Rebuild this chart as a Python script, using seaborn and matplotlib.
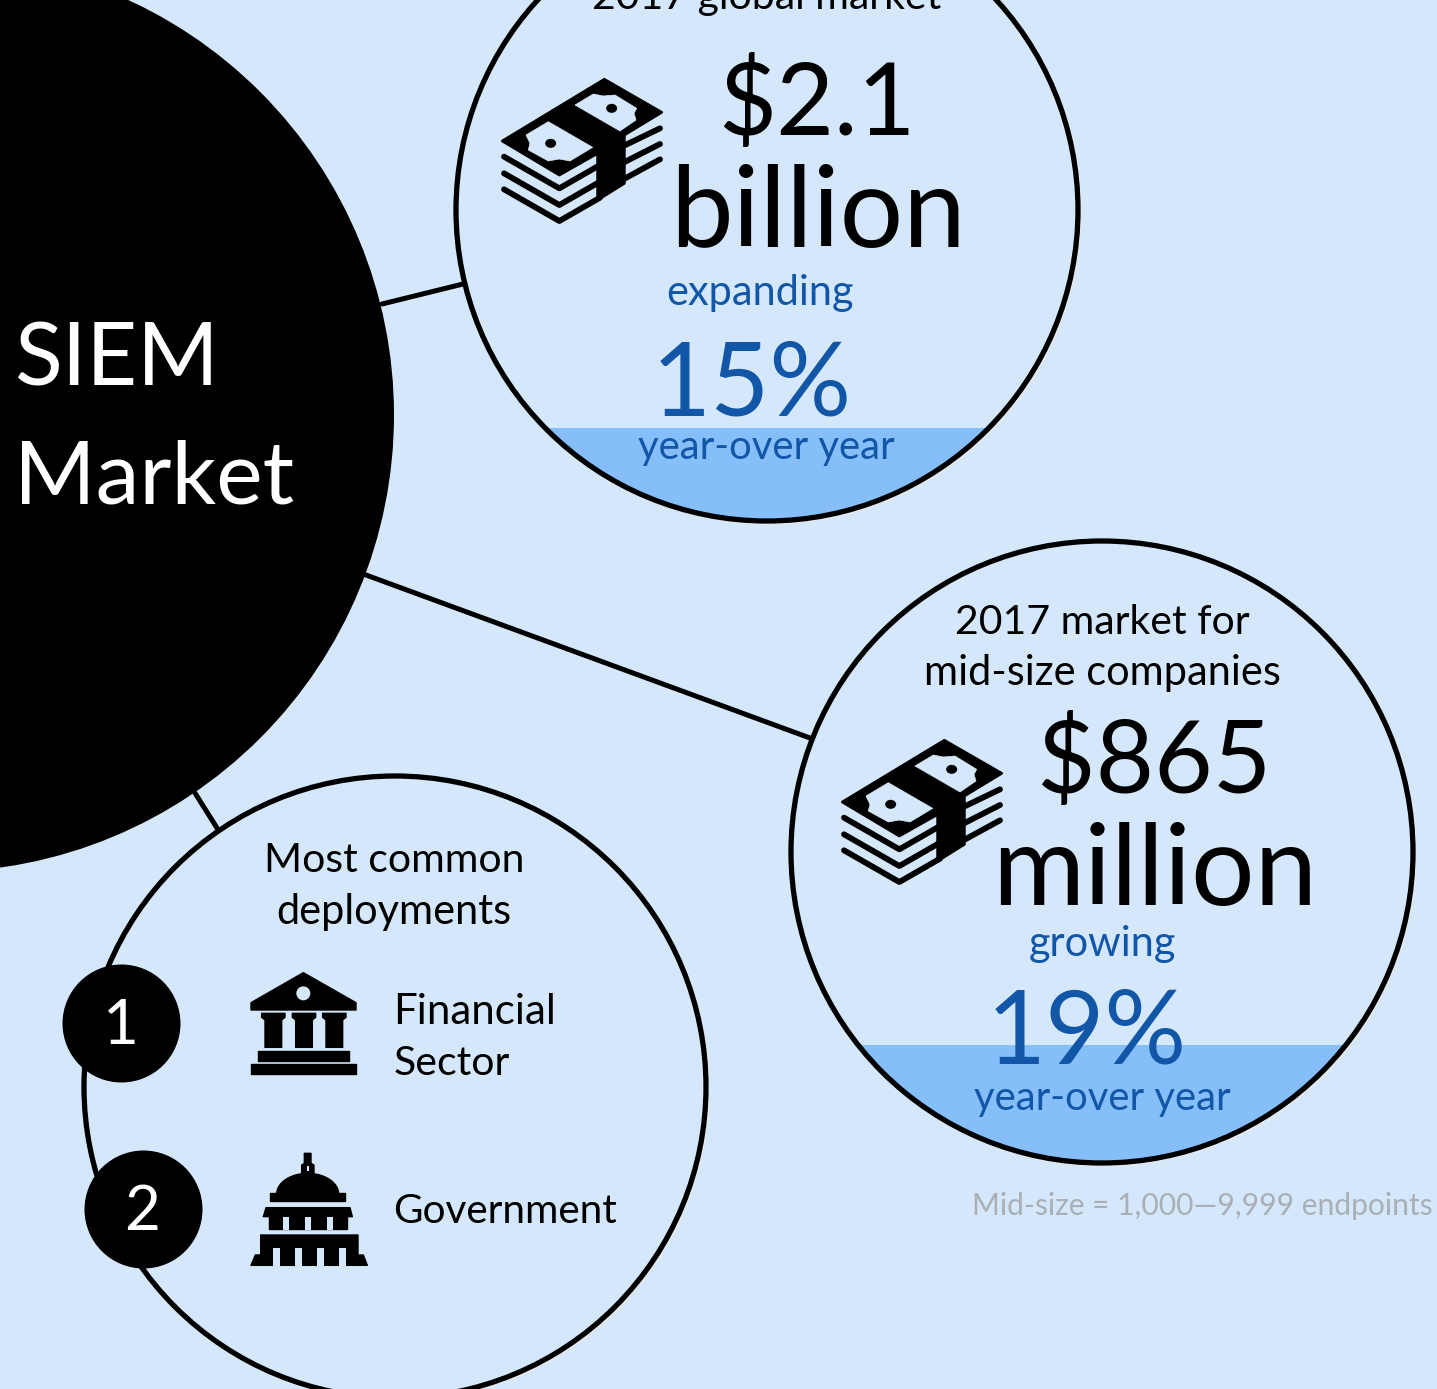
import matplotlib
matplotlib.use('Agg')
import matplotlib.pyplot as plt
import matplotlib.patches as mpatches
import numpy as np
import pandas as pd
import seaborn as sns

# --- data ---
TITLE_LINES = ['SIEM', 'Market']
MARKET_LABELS = ['2017 global market', '2017 market for\nmid-size companies']
MARKET_VALUES = ['$2.1', '$865']
MARKET_UNITS = ['billion', 'million']
GROWTH_WORDS = ['expanding', 'growing']
GROWTH_PCT = [15, 19]
GROWTH_NOTE = 'year-over year'
DEPLOY_TITLE = 'Most common\ndeployments'
DEPLOY_RANK = [1, 2]
DEPLOY_NAMES = ['Financial\nSector', 'Government']
FOOTNOTE = 'Mid-size = 1,000—9,999 endpoints'

# --- style ---
W, H = 1437, 1389
BG = '#d5e8fb'
WATER = '#85bef8'
BLUE = '#1256a8'
GREY = '#a9afb5'
HALO = '#e8eaee'
FONT = 'Lato'
R = 311

sns.set_theme(style='white')
plt.rcParams['font.family'] = [FONT, 'DejaVu Sans']

fig = plt.figure(figsize=(W / 100, H / 100), dpi=100, facecolor=BG)
ax = fig.add_axes([0, 0, 1, 1])
ax.set_xlim(0, W)
ax.set_ylim(H, 0)
ax.set_facecolor(BG)
ax.axis('off')


def txt(x, y, s, size, color='black', ha='center', z=6):
    # size is em height in pixels, y is the baseline
    ax.text(x, y, s, fontsize=size * 0.72, color=color, ha=ha, va='baseline',
            linespacing=1.0, zorder=z)


def poly(pts, ox, oy, color='black', z=5, lw=1.0):
    xy = [(ox + px / 3, oy + py / 3) for px, py in pts]
    ax.add_patch(mpatches.Polygon(xy, closed=True, fc=color, ec=color, lw=lw,
                                  joinstyle='round', zorder=z))


def bubble(cx, cy, pct=None):
    ax.add_patch(mpatches.Circle((cx + 1.5, cy + 1.5), R + 2, fc=HALO, ec='none', zorder=1.5))
    edge = mpatches.Circle((cx, cy), R, fc=BG, ec='none', zorder=2)
    ax.add_patch(edge)
    if pct is not None:
        level = cy + R - 2 * R * pct / 100
        water = mpatches.Rectangle((cx - R, level), 2 * R, cy + R - level,
                                   fc=WATER, ec='none', zorder=3)
        ax.add_patch(water)
        water.set_clip_path(edge)
    ax.add_patch(mpatches.Circle((cx, cy), R, fc='none', ec='black', lw=3.8, zorder=4))


def money(ox, oy):
    poly([(343, 58), (515, 157), (403, 225), (403, 370), (323, 420), (323, 280),
          (208, 345), (37, 243)], ox, oy, lw=2)
    poly([(175, 185), (308, 262), (240, 303), (208, 297), (175, 303), (115, 270),
          (120, 250), (108, 225)], ox, oy, color=BG, z=6, lw=0.5)
    poly([(255, 135), (310, 102), (340, 108), (375, 105), (440, 145), (432, 160),
          (438, 180), (390, 213)], ox, oy, color=BG, z=6, lw=0.5)
    for hx, hy in [(182, 250), (365, 145)]:
        ax.add_patch(mpatches.Ellipse((ox + hx / 3, oy + hy / 3), 11, 9, fc='black',
                                      ec='none', zorder=7))
    for y0 in [290, 340, 388]:
        xs = [ox + p / 3 for p in (42, 208, 330)]
        ys = [oy + (y0 + d) / 3 for d in (0, 95, 25)]
        ax.plot(xs, ys, color='black', lw=4.2, solid_capstyle='round',
                solid_joinstyle='round', zorder=5)
    for y0, y1 in [(258, 205), (308, 252), (358, 298)]:
        ax.plot([ox + 400 / 3, ox + 510 / 3], [oy + y0 / 3, oy + y1 / 3], color='black',
                lw=4.2, solid_capstyle='round', zorder=5)


def bank(ox, oy):
    poly([(190, 38), (348, 128), (348, 150), (33, 150), (33, 128)], ox, oy)
    ax.add_patch(mpatches.Circle((ox + 190 / 3, oy + 100 / 3), 7, fc=BG, ec='none', zorder=6))
    for left in [65, 157, 248]:
        poly([(left, 160), (left + 70, 160), (left + 70, 172), (left + 60, 180),
              (left + 60, 262), (left + 10, 262), (left + 10, 180), (left, 172)], ox, oy)
    poly([(55, 272), (328, 272), (328, 302), (55, 302)], ox, oy)
    poly([(33, 313), (348, 313), (348, 343), (33, 343)], ox, oy)


def capitol(ox, oy):
    poly([(193, 580), (213, 580), (213, 610), (222, 615), (222, 642), (185, 642),
          (185, 615), (193, 610)], ox, oy)
    poly([(200, 618), (206, 618), (206, 632), (200, 632)], ox, oy, color=BG, z=6, lw=0)
    # flat dome, half an ellipse
    t = np.linspace(np.pi, 2 * np.pi, 40)
    dome_x = ox + (203 + 95 * np.cos(t)) / 3
    dome_y = oy + (702 + 64 * np.sin(t)) / 3
    ax.fill(dome_x, dome_y, color='black', lw=0, zorder=5)
    poly([(90, 700), (316, 700), (316, 724), (90, 724)], ox, oy)
    poly([(78, 743), (330, 743), (337, 770), (70, 770)], ox, oy)
    poly([(88, 770), (322, 770), (322, 808), (88, 808)], ox, oy)
    for gx in [128, 194, 262]:
        poly([(gx, 772), (gx + 18, 772), (gx + 18, 810), (gx, 810)], ox, oy, color=BG, z=6, lw=0)
    poly([(62, 825), (354, 825), (354, 885), (370, 885), (382, 916), (33, 916), (46, 885),
          (62, 885)], ox, oy)
    for gx in [100, 166, 232, 298]:
        poly([(gx, 865), (gx + 20, 865), (gx + 20, 918), (gx, 918)], ox, oy, color=BG, z=6, lw=0)


# connector lines between the title disc and the bubbles
links = pd.DataFrame({
    'x': [382, 463, 366, 810, 195, 217],
    'y': [304, 284, 575, 738, 793, 828],
    'link': ['a', 'a', 'b', 'b', 'c', 'c'],
})
sns.lineplot(data=links, x='x', y='y', units='link', estimator=None, color='black',
             linewidth=3.6, sort=False, legend=False, ax=ax, zorder=1)
ax.set_xlim(0, W)
ax.set_ylim(H, 0)
ax.axis('off')

ax.add_patch(mpatches.Circle((-63, 415), 457, fc='black', ec='none', zorder=2))
txt(14, 385, TITLE_LINES[0], 88, 'white', ha='left')
txt(14, 503, TITLE_LINES[1], 88, 'white', ha='left')

# global market bubble
bubble(767, 210, GROWTH_PCT[0])
txt(767, 9, MARKET_LABELS[0], 41)
money(490, 60)
txt(817, 135, MARKET_VALUES[0], 100)
txt(818, 247, MARKET_UNITS[0], 112)
txt(760, 305, GROWTH_WORDS[0], 41.5, BLUE)
txt(752, 416, f'{GROWTH_PCT[0]}%', 102, BLUE)
txt(766, 459, GROWTH_NOTE, 40, BLUE)

# mid-size bubble
bubble(1102, 852, GROWTH_PCT[1])
lines = MARKET_LABELS[1].split('\n')
txt(1102, 634, lines[0], 41)
txt(1102, 685, lines[1], 41.5)
money(830, 721)
txt(1154, 793, MARKET_VALUES[1], 101)
txt(1155, 905, MARKET_UNITS[1], 112)
txt(1102, 956, GROWTH_WORDS[1], 41.5, BLUE)
txt(1087, 1063, f'{GROWTH_PCT[1]}%', 102, BLUE)
txt(1102, 1110, GROWTH_NOTE, 40, BLUE)
txt(972, 1215, FOOTNOTE, 30, GREY, ha='left')

# deployments bubble
bubble(395, 1087)
lines = DEPLOY_TITLE.split('\n')
txt(394, 872, lines[0], 41)
txt(394, 924, lines[1], 41.5)
bank(240, 960)
capitol(240, 960)
names = DEPLOY_NAMES[0].split('\n')
txt(393, 1024, names[0], 42, ha='left')
txt(394, 1075, names[1], 41, ha='left')
txt(393, 1223, DEPLOY_NAMES[1], 40.5, ha='left')

badges = pd.DataFrame({'x': [120.5, 142.5], 'y': [1023, 1209], 'rank': DEPLOY_RANK})
sns.scatterplot(data=badges, x='x', y='y', s=(118 * 0.72) ** 2, color='black', linewidth=0,
                legend=False, ax=ax, zorder=5, clip_on=False)
ax.set_xlim(0, W)
ax.set_ylim(H, 0)
ax.axis('off')
for _, row in badges.iterrows():
    txt(row['x'], row['y'] + 21, str(int(row['rank'])), 62, 'white')

fig.savefig('out.png', dpi=100, facecolor=BG)
